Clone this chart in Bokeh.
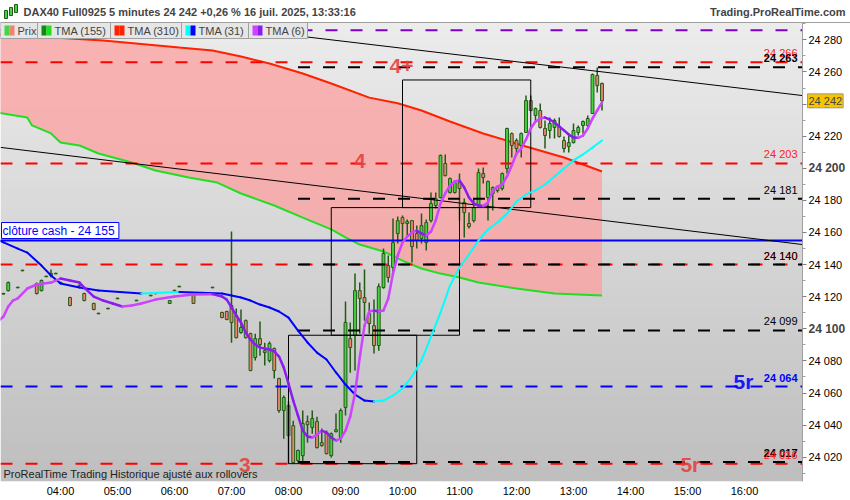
import numpy as np
from bokeh.plotting import figure
from bokeh.models import FixedTicker, Label, BoxAnnotation, Span
from bokeh.embed import file_html
from bokeh.resources import INLINE

FONT = "Liberation Sans"

# ---------------- data ----------------
candle_time = [
    "03:00", "03:05", "03:15", "03:20", "03:35", "03:40", "03:45", "03:50", "03:55", "04:00",
    "04:10", "04:20", "04:25", "04:35", "04:40", "04:50", "05:00", "05:20", "05:25", "05:35",
    "05:40", "05:55", "06:00", "06:05", "06:20", "06:40", "06:50",
    "06:55", "07:00", "07:05", "07:10", "07:15", "07:20", "07:25", "07:30", "07:35", "07:40",
    "07:45", "07:50", "07:55", "08:00", "08:05", "08:10", "08:15", "08:20", "08:25", "08:30",
    "08:35", "08:40", "08:45", "08:50", "08:55", "09:00", "09:05", "09:10", "09:15", "09:20",
    "09:25", "09:30", "09:35", "09:40", "09:45", "09:50", "09:55", "10:00", "10:05", "10:10",
    "10:15", "10:20", "10:25", "10:30", "10:35", "10:40", "10:45", "10:50", "10:55", "11:00",
    "11:05", "11:10", "11:15", "11:20", "11:25", "11:30", "11:35", "11:40", "11:45", "11:50",
    "11:55", "12:00", "12:05", "12:10", "12:15", "12:20", "12:25", "12:30", "12:35", "12:40",
    "12:45", "12:50", "12:55", "13:00", "13:05", "13:10", "13:15", "13:20", "13:25", "13:30",
]
candle_open = [
    24122.0, 24123.8, 24125.9, 24136.5, 24128.2, 24123.8, 24132.8, 24134.5, 24134.6, 24129.0,
    24119.5, 24127.2, 24122.0, 24115.8, 24109.7, 24112.8, 24119.1, 24117.8, 24122.2, 24120.9,
    24122.2, 24115.8, 24124.0, 24126.5, 24121.4, 24125.9, 24110.2,
    24110.8, 24114.5, 24108.3, 24097.7, 24105.1, 24097.0, 24082.1, 24093.9, 24086.4, 24080.2,
    24087.7, 24069.0, 24049.1, 24052.2, 24039.7, 24017.9, 24021.0, 24042.2, 24038.5, 24042.2,
    24029.1, 24035.4, 24021.0, 24036.0, 24032.3, 24051.0, 24093.9, 24095.8, 24123.8, 24119.5,
    24109.5, 24102.0, 24089.6, 24125.7, 24139.4, 24138.2, 24159.3, 24169.3, 24165.6, 24167.4,
    24159.3, 24156.2, 24153.7, 24167.4, 24176.8, 24181.8, 24203.0, 24184.9, 24184.9, 24191.1,
    24178.7, 24165.6, 24167.4, 24176.8, 24196.7, 24181.8, 24184.3, 24188.0, 24187.4, 24199.8,
    24221.6, 24217.3, 24214.2, 24222.3, 24242.2, 24232.9, 24236.0, 24224.8, 24223.5, 24225.4,
    24226.0, 24217.3, 24213.5, 24216.0, 24222.3, 24226.6, 24226.6, 24234.1, 24257.8, 24252.8,
]
candle_high = [
    24122.5, 24129.5, 24126.2, 24136.8, 24128.8, 24130.7, 24133.1, 24136.9, 24134.9, 24129.3,
    24120.0, 24127.5, 24122.5, 24116.2, 24110.0, 24113.1, 24119.4, 24118.1, 24122.5, 24121.2,
    24122.5, 24118.0, 24124.3, 24126.8, 24121.8, 24126.2, 24110.6,
    24111.2, 24160.6, 24112.6, 24112.0, 24105.8, 24097.6, 24097.0, 24104.5, 24091.4, 24092.1,
    24088.3, 24069.5, 24058.4, 24054.7, 24042.8, 24024.8, 24049.1, 24046.0, 24049.1, 24045.3,
    24037.9, 24036.6, 24035.4, 24047.2, 24050.3, 24117.0, 24103.9, 24134.4, 24128.8, 24136.9,
    24116.4, 24118.2, 24128.2, 24150.0, 24145.6, 24168.7, 24169.9, 24170.6, 24168.1, 24167.6,
    24164.3, 24171.8, 24168.1, 24184.9, 24184.9, 24208.6, 24208.6, 24194.2, 24192.4, 24196.7,
    24181.1, 24172.4, 24181.1, 24199.8, 24200.5, 24192.4, 24188.6, 24189.2, 24197.3, 24225.2,
    24222.3, 24218.5, 24222.3, 24245.3, 24245.3, 24237.8, 24240.3, 24229.7, 24231.6, 24231.0,
    24231.6, 24219.8, 24221.6, 24227.9, 24226.6, 24229.7, 24232.9, 24259.0, 24262.8, 24253.4,
]
candle_low = [
    24121.5, 24123.2, 24125.4, 24136.0, 24121.4, 24123.2, 24132.3, 24131.9, 24134.1, 24128.5,
    24114.0, 24126.7, 24117.2, 24111.6, 24109.2, 24112.3, 24118.6, 24117.3, 24121.7, 24120.4,
    24121.7, 24115.4, 24123.5, 24126.0, 24115.4, 24125.4, 24106.6,
    24105.4, 24091.4, 24093.9, 24097.0, 24093.9, 24073.5, 24080.2, 24083.3, 24077.1, 24079.0,
    24069.0, 24047.8, 24031.6, 24016.1, 24016.1, 24016.7, 24016.7, 24029.1, 24034.7, 24025.4,
    24026.6, 24021.7, 24019.8, 24035.4, 24029.1, 24046.0, 24072.7, 24074.0, 24097.0, 24105.1,
    24097.0, 24084.6, 24086.4, 24125.0, 24128.8, 24135.0, 24153.1, 24155.0, 24156.9, 24141.3,
    24150.0, 24153.1, 24148.8, 24166.2, 24174.9, 24181.1, 24194.9, 24184.3, 24184.3, 24167.4,
    24156.9, 24162.5, 24166.2, 24175.5, 24190.5, 24167.4, 24173.7, 24184.9, 24186.1, 24196.7,
    24206.7, 24209.8, 24206.7, 24222.0, 24235.5, 24228.5, 24224.8, 24212.3, 24218.5, 24218.5,
    24219.2, 24209.8, 24209.8, 24215.4, 24220.4, 24221.6, 24224.8, 24233.8, 24247.2, 24236.0,
]
candle_close = [
    24121.6, 24128.8, 24125.5, 24136.1, 24122.0, 24130.1, 24132.4, 24133.2, 24134.2, 24128.6,
    24114.5, 24126.8, 24117.6, 24112.0, 24109.3, 24112.4, 24118.7, 24117.4, 24121.8, 24120.5,
    24121.8, 24117.6, 24123.6, 24126.1, 24115.8, 24125.5, 24107.0,
    24105.8, 24103.9, 24094.5, 24100.8, 24094.5, 24074.0, 24093.9, 24090.2, 24085.2, 24090.8,
    24074.0, 24049.1, 24057.2, 24033.5, 24016.7, 24024.2, 24041.0, 24040.3, 24044.1, 24026.0,
    24027.3, 24022.3, 24034.7, 24037.2, 24049.1, 24104.0, 24088.3, 24123.8, 24118.9, 24116.4,
    24103.3, 24089.6, 24126.3, 24146.9, 24132.0, 24153.7, 24167.4, 24165.6, 24166.8, 24151.2,
    24155.0, 24164.3, 24166.2, 24178.0, 24181.1, 24208.0, 24195.5, 24193.6, 24191.1, 24187.4,
    24172.4, 24163.7, 24175.5, 24197.3, 24194.2, 24191.7, 24188.0, 24186.1, 24196.7, 24224.8,
    24214.2, 24212.3, 24221.6, 24242.2, 24236.0, 24237.2, 24225.4, 24220.4, 24227.9, 24229.7,
    24219.8, 24212.3, 24216.0, 24223.5, 24225.4, 24229.1, 24231.0, 24258.4, 24251.5, 24242.0,
]

tma6_time = [
    "02:55", "03:00", "03:05", "03:10", "03:15", "03:25", "03:35", "03:50", "04:00", "04:10",
    "04:20", "04:25", "04:35", "04:45", "04:55", "05:05", "05:15", "05:25", "05:40", "06:00",
    "06:20", "06:40", "06:50", "06:55", "07:00", "07:05", "07:10", "07:15", "07:20", "07:25",
    "07:30", "07:35", "07:40", "07:45", "07:50", "07:55", "08:00", "08:05", "08:10", "08:15",
    "08:20", "08:25", "08:30", "08:35", "08:40", "08:45", "08:50", "08:55", "09:00", "09:05",
    "09:10", "09:15", "09:20", "09:25", "09:30", "09:35", "09:40", "09:45", "09:50", "09:55",
    "10:00", "10:05", "10:10", "10:15", "10:20", "10:25", "10:30", "10:35", "10:40", "10:45",
    "10:50", "10:55", "11:00", "11:05", "11:10", "11:15", "11:20", "11:25", "11:30", "11:35",
    "11:40", "11:45", "11:50", "11:55", "12:00", "12:05", "12:10", "12:15", "12:20", "12:25",
    "12:30", "12:35", "12:40", "12:45", "12:50", "12:55", "13:00", "13:05", "13:10", "13:15",
    "13:20", "13:25", "13:30",
]
tma6 = [
    24105.0, 24107.7, 24113.9, 24117.6, 24118.9, 24125.1, 24127.6, 24128.8, 24131.3, 24130.1,
    24128.8, 24125.7, 24120.1, 24117.6, 24115.8, 24113.9, 24114.5, 24115.8, 24118.2, 24120.1,
    24121.4, 24121.6, 24120.1, 24118.2, 24113.3, 24108.3, 24103.9, 24097.7, 24093.3, 24090.2,
    24088.3, 24087.7, 24087.1, 24085.9, 24082.7, 24075.9, 24065.9, 24055.3, 24046.0, 24036.6,
    24032.9, 24032.3, 24034.1, 24036.6, 24035.4, 24032.3, 24030.4, 24031.6, 24036.6, 24045.4,
    24059.7, 24082.1, 24102.0, 24110.8, 24111.4, 24110.8, 24111.4, 24118.9, 24134.4, 24145.7,
    24153.8, 24157.5, 24160.0, 24161.2, 24159.4, 24158.1, 24160.6, 24167.5, 24178.1, 24184.3,
    24189.3, 24191.8, 24192.4, 24188.0, 24181.8, 24178.1, 24176.8, 24176.5, 24178.7, 24186.2,
    24188.6, 24189.9, 24194.9, 24201.7, 24209.2, 24212.3, 24217.9, 24224.8, 24229.1, 24231.0,
    24231.6, 24230.4, 24228.5, 24226.0, 24223.6, 24221.0, 24219.2, 24219.0, 24220.4, 24224.8,
    24231.0, 24236.0, 24241.0,
]

tma31_time = [
    "02:55", "03:00", "03:15", "03:25", "03:40", "03:50", "04:00", "04:20", "04:40", "05:25",
    "05:45", "06:05", "06:50", "07:00", "07:10", "07:20", "07:30", "07:40", "07:50", "08:00",
    "08:10", "08:20", "08:30", "08:40", "08:50", "09:00", "09:10", "09:20", "09:30", "09:40",
    "09:50", "10:00", "10:10", "10:20", "10:30", "10:40", "10:50", "11:00", "11:10", "11:20",
    "11:30", "11:40", "11:50", "12:00", "12:10", "12:20", "12:30", "12:40", "12:50", "13:00",
    "13:10", "13:20", "13:30",
]
tma31 = [
    24155.0, 24153.8, 24150.0, 24147.5, 24139.4, 24133.2, 24128.2, 24125.7, 24123.8, 24122.0,
    24122.5, 24123.0, 24122.0, 24120.7, 24119.5, 24117.6, 24115.1, 24113.3, 24110.8, 24107.0,
    24098.9, 24091.5, 24085.2, 24080.9, 24072.8, 24065.3, 24059.1, 24055.3, 24054.7, 24055.3,
    24058.4, 24062.8, 24070.3, 24080.2, 24095.2, 24110.1, 24127.0, 24138.2, 24146.3, 24155.0,
    24161.9, 24166.2, 24171.8, 24179.3, 24183.7, 24186.2, 24189.9, 24194.9, 24199.9, 24204.9,
    24208.6, 24212.9, 24217.3,
]

tma155_time = [
    "02:55", "03:25", "03:30", "03:50", "04:00", "04:20", "04:40", "05:15", "05:40", "06:15",
    "06:45", "07:10", "07:45", "08:15", "08:45", "09:00", "09:15", "09:40", "10:00", "10:20",
    "10:40", "11:00", "11:20", "12:00", "12:40", "13:30",
]
tma155 = [
    24234.5, 24231.6, 24226.7, 24221.7, 24216.1, 24214.2, 24209.2, 24203.6, 24198.6, 24194.3,
    24191.1, 24184.3, 24176.8, 24169.3, 24161.9, 24157.0, 24152.5, 24148.2, 24142.5, 24137.6,
    24134.4, 24132.0, 24128.8, 24125.1, 24122.0, 24120.7,
]

tma310_time = [
    "02:55", "04:45", "06:05", "06:40", "07:10", "07:40", "08:15", "08:45", "09:25", "09:55",
    "10:20", "10:50", "11:25", "12:10", "12:50", "13:30",
]
tma310 = [
    24283.5, 24279.6, 24275.2, 24273.4, 24269.6, 24265.3, 24259.0, 24252.8, 24244.0, 24240.5,
    24236.0, 24229.1, 24221.7, 24213.6, 24206.7, 24198.0,
]

red_levels = [24266, 24203, 24140, 24016]
black_levels = [24263, 24181, 24140, 24099, 24017]
black_levels_from = "08:10"
blue_level = 24064
purple_level = 24286
cash_close = 24155
last_price = 24242

box_from = ["08:00", "08:45", "10:00"]
box_to = ["10:15", "11:00", "12:15"]
box_low = [24016, 24096, 24175.5]
box_high = [24096, 24175.5, 24255]

trend_from = ["02:57", "06:15"]
trend_to = ["17:01", "17:01"]
trend_from_price = [24213.0, 24290.5]
trend_to_price = [24152.5, 24245.3]

zone_text = ["4+", "4", "3", "5r", "5r"]
zone_time = ["09:59", "09:15", "07:14", "15:03", "15:59"]
zone_price = [24263.4, 24204.8, 24015.4, 24015.4, 24067.1]
zone_color = ["#e53e3e", "#e53e3e", "#e53e3e", "#e53e3e", "#0000ff"]

tag_text = ["24 266", "24 263", "24 203", "24 181", "24 140", "24 140", "24 099", "24 064", "24 017", "24 016"]
tag_price = [24266, 24263, 24203, 24181, 24140, 24140, 24099, 24064, 24017, 24016]
tag_color = ["#ff2020", "black", "#ff2020", "black", "#ff2020", "black", "black", "#0000ff", "black", "#ff2020"]
tag_bold = [False, True, False, False, False, False, False, True, True, False]

hour_ticks = ["04:00", "05:00", "06:00", "07:00", "08:00", "09:00", "10:00",
              "11:00", "12:00", "13:00", "14:00", "15:00", "16:00"]
price_ticks = [24020, 24040, 24060, 24080, 24100, 24120, 24140,
               24160, 24180, 24200, 24220, 24240, 24260, 24280]
bold_ticks = [24100, 24200]

legend_names = ["Prix", "TMA (155)", "TMA (310)", "TMA (31)", "TMA (6)"]
legend_colors = [("#44d444", "#ea8573"), ("#0b8f0b", "#22dd22"), ("#ff2200", "#ff2200"),
                 ("#00ffff", "#0000ff"), ("#cc44ff", "#8a1cf0")]

header = "DAX40 Full0925 5 minutes 24 242 +0,26 % 16 juil. 2025, 13:33:16"
site = "Trading.ProRealTime.com"
footer = "ProRealTime Trading  Historique ajusté aux rollovers"


def hrs(s):
    return int(s[:2]) + int(s[3:]) / 60.0


def fmt(v):
    return "%d %03d" % (v // 1000, v % 1000)


# plot area 802 x 459 px, a 22 px header above it and a 48 px price scale on its right
PW, PH, HEAD, AXW = 802, 459, 22, 48
X0, X1 = hrs("04:00") - 60 / 57.0, hrs("04:00") + 742 / 57.0
Y0, Y1 = 24004.9, 24290.8
XR = X1 + AXW * (X1 - X0) / PW
YT = Y1 + HEAD * (Y1 - Y0) / PH
FW, FH = PW + AXW, PH + HEAD

p = figure(frame_width=FW, frame_height=FH, x_range=(X0, XR), y_range=(Y0, YT),
           y_axis_location="right", output_backend="svg", toolbar_location=None,
           min_border_left=0, min_border_top=0, min_border_right=0, min_border_bottom=18,
           background_fill_color="white", border_fill_color="white", outline_line_color=None)
p.grid.visible = False

# grey gradient behind the chart
n = 64
shade = np.linspace(0xbf, 0xec, n).astype(np.uint8)
rgba = np.zeros((n, 1, 4), dtype=np.uint8)
rgba[:, 0, 0] = shade
rgba[:, 0, 1] = shade
rgba[:, 0, 2] = shade
rgba[:, 0, 3] = 255
p.image_rgba(image=[rgba.view(np.uint32).reshape(n, 1)], x=X0, y=Y0, dw=X1 - X0, dh=Y1 - Y0)
p.add_layout(Span(location=Y1, dimension="width", line_color="#a0a0a0", line_width=1))

# pink zone between TMA 310 and TMA 155
t310 = [hrs(t) for t in tma310_time]
t155 = [hrs(t) for t in tma155_time]
p.patch(t310 + t155[::-1], tma310 + tma155[::-1], fill_color="#ff9c9c", fill_alpha=0.72, line_color=None)
p.line(t155, tma155, line_color="#22dd22", line_width=2)
p.line(t310, tma310, line_color="#ff2200", line_width=2)

# candles
ct = [hrs(t) for t in candle_time]
body_top = [max(o, c) for o, c in zip(candle_open, candle_close)]
body_bot = [min(o, c) for o, c in zip(candle_open, candle_close)]
body_col = ["#44d444" if c >= o else "#ea8573" for o, c in zip(candle_open, candle_close)]
p.segment(ct, candle_low, ct, candle_high, line_color="#245a16", line_width=1.5)
p.vbar(x=ct, width=0.05, top=body_top, bottom=body_bot, fill_color=body_col,
       line_color="#245a16", line_width=1)

# horizontal levels
dash = "12 13"
p.segment([X0] * len(red_levels), red_levels, [X1] * len(red_levels), red_levels,
          line_color="#ff0000", line_width=2, line_dash=dash)
bf = hrs(black_levels_from)
p.segment([bf] * len(black_levels), black_levels, [X1] * len(black_levels), black_levels,
          line_color="black", line_width=2, line_dash=dash)
p.segment([X0], [blue_level], [X1], [blue_level], line_color="#0000ff", line_width=2, line_dash=dash)
p.segment([X0], [purple_level], [X1], [purple_level], line_color="#7f00c8", line_width=2, line_dash=dash)
p.segment([X0], [cash_close], [X1], [cash_close], line_color="#0000ff", line_width=2)

# boxes and trend lines
p.quad(left=[hrs(t) for t in box_from], right=[hrs(t) for t in box_to], bottom=box_low, top=box_high,
       fill_color=None, line_color="black", line_width=1)
p.segment([hrs(t) for t in trend_from], trend_from_price, [hrs(t) for t in trend_to], trend_to_price,
          line_color="black", line_width=1)


def colored(times, vals, up, down, width):
    xs = [hrs(t) for t in times]
    cols = [up if b >= a else down for a, b in zip(vals[:-1], vals[1:])]
    p.segment(xs[:-1], vals[:-1], xs[1:], vals[1:], line_color=cols, line_width=width, line_cap="round")


colored(tma31_time, tma31, "#00ffff", "#0000ff", 2)
colored(tma6_time, tma6, "#cc44ff", "#8a1cf0", 2.5)

# price scale, drawn at the right edge of the chart area
ya = p.yaxis[0]
ya.fixed_location = X1
ya.bounds = (Y0, Y1)
ya.ticker = FixedTicker(ticks=price_ticks, minor_ticks=[v - 10 for v in price_ticks] + [24290])
ya.major_label_overrides = {v: ("" if v in bold_ticks else fmt(v)) for v in price_ticks}
ya.axis_line_color = "#a0a0a0"
ya.major_tick_line_color = "#808080"
ya.minor_tick_line_color = "#a0a0a0"
ya.major_tick_in = 0
ya.major_tick_out = 4
ya.minor_tick_in = 0
ya.minor_tick_out = 3
ya.major_label_standoff = 2
ya.major_label_text_font = FONT
ya.major_label_text_font_size = "11px"
ya.major_label_text_color = "black"

xa = p.xaxis[0]
xa.ticker = FixedTicker(ticks=[hrs(t) for t in hour_ticks])
xa.major_label_overrides = {hrs(t): t for t in hour_ticks}
xa.axis_line_color = None
xa.major_tick_line_color = None
xa.minor_tick_line_color = None
xa.major_tick_in = 0
xa.major_tick_out = 0
xa.minor_tick_in = 0
xa.minor_tick_out = 0
xa.major_label_standoff = 3
xa.major_label_text_font = FONT
xa.major_label_text_font_size = "11px"
xa.major_label_text_color = "black"

for v in bold_ticks:
    p.add_layout(Label(x=PW + 6, y=v, x_units="screen", text=fmt(v), text_font=FONT,
                       text_font_size="12px", text_font_style="bold", text_baseline="middle"))

p.add_layout(Label(x=PW + 5, y=last_price, x_units="screen", text=fmt(last_price), text_font=FONT,
                   text_font_size="11px", text_baseline="middle", background_fill_color="#f7c500",
                   border_line_color="#9a9a9a", padding=1))

# zone labels
for txt, t, v, c in zip(zone_text, zone_time, zone_price, zone_color):
    p.add_layout(Label(x=hrs(t), y=v, text=txt, text_font=FONT, text_font_size="21px",
                       text_font_style="bold", text_color=c, text_alpha=0.9,
                       text_align="center", text_baseline="middle"))

# price tags at the right of the levels
for txt, v, c, b in zip(tag_text, tag_price, tag_color, tag_bold):
    p.add_layout(Label(x=PW - 5, y=v, x_units="screen", y_offset=3, text=txt, text_font=FONT,
                       text_font_size="11px", text_font_style="bold" if b else "normal",
                       text_color=c, text_align="right", text_baseline="bottom"))

p.add_layout(Label(x=1, y=cash_close, x_units="screen", y_offset=2, text="clôture cash -  " + fmt(cash_close),
                   text_font=FONT, text_font_size="12px", text_color="#0000ff", text_baseline="bottom",
                   background_fill_color="white", border_line_color="#0000ff", padding=1))

# legend row at the top of the chart
box_l = [0, 37, 110, 181, 248]
box_r = [37, 110, 181, 248, 307]
for name, (c1, c2), l, r in zip(legend_names, legend_colors, box_l, box_r):
    p.add_layout(BoxAnnotation(left=l, right=r, top=PH, bottom=PH - 16, left_units="screen",
                               right_units="screen", top_units="screen", bottom_units="screen",
                               fill_color="#e6e6e6", fill_alpha=1, line_color="#a0a0a0", line_alpha=1))
    p.add_layout(BoxAnnotation(left=l + 4, right=l + 9, top=PH - 3, bottom=PH - 13, left_units="screen",
                               right_units="screen", top_units="screen", bottom_units="screen",
                               fill_color=c1, fill_alpha=1, line_color=None))
    p.add_layout(BoxAnnotation(left=l + 9, right=l + 14, top=PH - 3, bottom=PH - 13, left_units="screen",
                               right_units="screen", top_units="screen", bottom_units="screen",
                               fill_color=c2, fill_alpha=1, line_color=None))
    p.add_layout(Label(x=l + 17, y=PH - 8, x_units="screen", y_units="screen", text=name, text_font=FONT,
                       text_font_size="11px", text_baseline="middle"))

# header line
for l, b, t in [(4, 4, 12), (9, 7, 15), (14, 10, 18)]:
    p.add_layout(BoxAnnotation(left=l, right=l + 3, top=PH + t, bottom=PH + b, left_units="screen",
                               right_units="screen", top_units="screen", bottom_units="screen",
                               fill_color="#44d444", fill_alpha=1, line_color="#245a16", line_alpha=1))
p.add_layout(Label(x=23, y=PH + 11, x_units="screen", y_units="screen", text=header, text_font=FONT,
                   text_font_size="11px", text_font_style="bold", text_baseline="middle"))
p.add_layout(Label(x=FW - 5, y=PH + 11, x_units="screen", y_units="screen", text=site, text_font=FONT,
                   text_font_size="11px", text_font_style="bold", text_align="right", text_baseline="middle"))
p.add_layout(Label(x=3, y=2, x_units="screen", y_units="screen", text=footer, text_font=FONT,
                   text_font_size="11px", text_color="#222222", text_baseline="bottom"))

open("out.html", "w").write(file_html(p, INLINE))
